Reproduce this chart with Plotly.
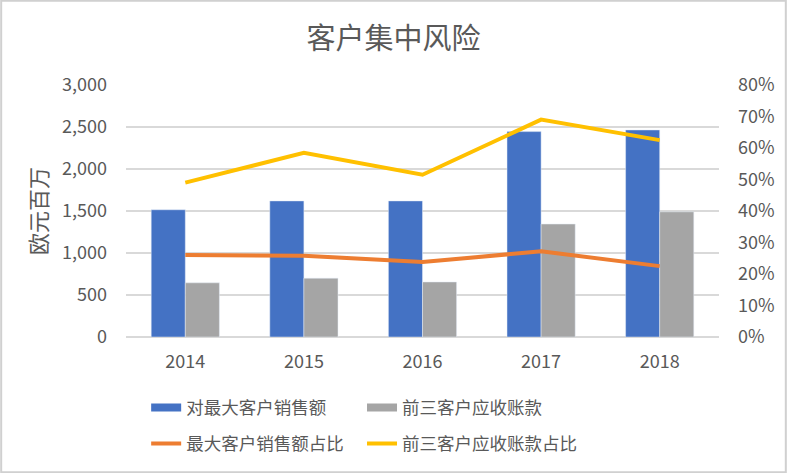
import plotly.graph_objects as go

years = ["2014", "2015", "2016", "2017", "2018"]
top_client_sales = [1515, 1620, 1620, 2445, 2465]
top3_receivables = [645, 700, 655, 1345, 1490]
top_client_share = [0.26, 0.258, 0.238, 0.272, 0.225]
top3_recv_share = [0.49, 0.585, 0.515, 0.69, 0.625]

FONT = "Noto Sans CJK SC"
TXT = "#595959"
BLUE, GRAY, ORANGE, YELLOW = "#4472C4", "#A5A5A5", "#ED7D31", "#FFC000"

fig = go.Figure()
fig.add_trace(go.Bar(x=years, y=top_client_sales, name="对最大客户销售额",
                     marker_color=BLUE, showlegend=False))
fig.add_trace(go.Bar(x=years, y=top3_receivables, name="前三客户应收账款",
                     marker_color=GRAY, showlegend=False))
fig.add_trace(go.Scatter(x=years, y=top_client_share, name="最大客户销售额占比",
                         mode="lines", line=dict(color=ORANGE, width=4),
                         yaxis="y2", legend="legend3"))
fig.add_trace(go.Scatter(x=years, y=top3_recv_share, name="前三客户应收账款占比",
                         mode="lines", line=dict(color=YELLOW, width=4),
                         yaxis="y2", legend="legend4"))
# legend swatches for the bar series (wide rectangles, as in the reference)
fig.add_trace(go.Scatter(x=[None], y=[None], name="对最大客户销售额", mode="lines",
                         line=dict(color=BLUE, width=8), legend="legend"))
fig.add_trace(go.Scatter(x=[None], y=[None], name="前三客户应收账款", mode="lines",
                         line=dict(color=GRAY, width=8), legend="legend2"))

def leg(x, y):
    return dict(orientation="h", x=x, xanchor="left", y=y, yanchor="middle",
                font=dict(size=17.5, color=TXT), bgcolor="rgba(0,0,0,0)")

fig.update_layout(
    width=787, height=473,
    margin=dict(l=126, r=68, t=85, b=136),
    paper_bgcolor="white", plot_bgcolor="white",
    font=dict(family=FONT, color=TXT, size=18),
    title=dict(text="客户集中风险", x=0.5, xanchor="center", y=0.918, yanchor="middle",
               font=dict(size=29, color=TXT, family=FONT)),
    barmode="group", bargap=0.425, bargroupgap=0,
    xaxis=dict(showgrid=False, showline=False, ticks="", tickfont=dict(size=18, color=TXT),
               ticklabelstandoff=12),
    yaxis=dict(range=[0, 3000], dtick=500, tickformat=",d", gridcolor="#D9D9D9",
               gridwidth=1.5, zeroline=True, zerolinecolor="#D9D9D9", zerolinewidth=1.5,
               showline=False, ticklabelstandoff=18, tickfont=dict(size=18, color=TXT),
               title=dict(text="欧元百万", font=dict(size=22, color=TXT), standoff=8)),
    yaxis2=dict(range=[0, 0.8], dtick=0.1, tickformat=".0%", overlaying="y", side="right",
                showgrid=False, zeroline=False, showline=False, ticklabelstandoff=18,
                tickfont=dict(size=18, color=TXT)),
    legend=leg(0.034, -0.28),
    legend2=leg(0.398, -0.28),
    legend3=leg(0.034, -0.423),
    legend4=leg(0.398, -0.423),
    shapes=[dict(type="rect", xref="paper", yref="paper",
                 x0=-126/593 + 0.002, x1=1 + 68/593 - 0.002,
                 y0=-136/252 + 0.003, y1=1 + 85/252 - 0.003,
                 line=dict(color="#D0D0D0", width=2), fillcolor="rgba(0,0,0,0)", layer="below")],
)

fig.write_html("out.html")
